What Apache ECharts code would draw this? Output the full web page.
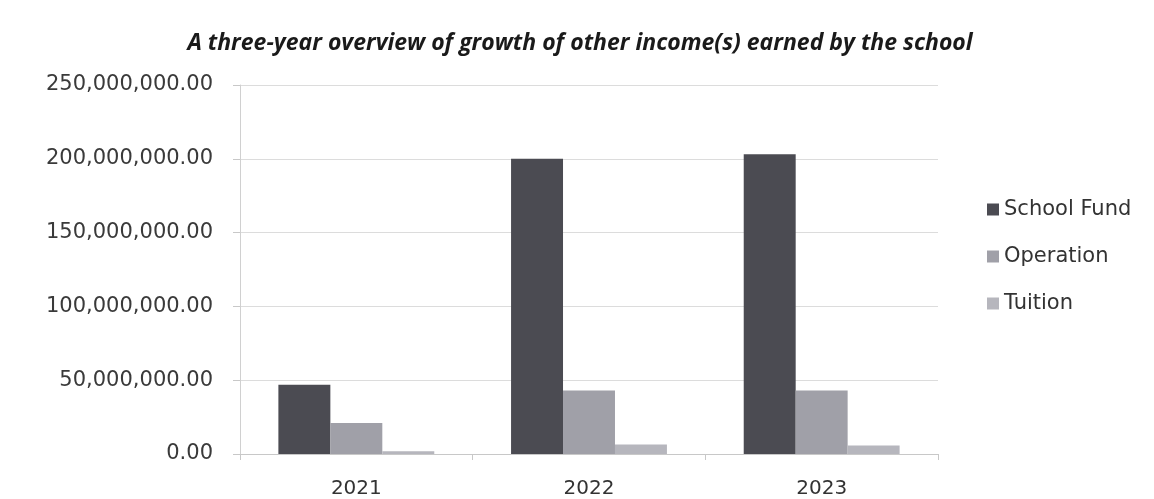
<!DOCTYPE html>
<html>
<head>
<meta charset="utf-8">
<script src="https://cdn.jsdelivr.net/npm/echarts@6/dist/echarts.min.js"></script>
<style>
  html, body { margin: 0; padding: 0; background: #ffffff; }
  #chart { width: 1154px; height: 499px; }
</style>
</head>
<body>
<div id="chart"></div>
<script>
// Years on the category axis
const years = ['2021', '2022', '2023'];

// Other income per year, in currency units
const schoolFund = [47000000, 200000000, 203000000];
const operation = [21000000, 43000000, 43000000];
const tuition = [1800000, 6500000, 5800000];

// Value-axis ticks
const yTicks = [0, 50000000, 100000000, 150000000, 200000000, 250000000];

const fmt = v => v.toLocaleString('en-US', { minimumFractionDigits: 2, maximumFractionDigits: 2 });

const chart = echarts.init(document.getElementById('chart'));
const labelFont = 'DejaVu Sans';

chart.setOption({
  backgroundColor: '#ffffff',
  animation: false,
  title: {
    text: 'A three-year overview of growth of other income(s) earned by the school',
    left: 575,
    textAlign: 'center',
    top: 27,
    textStyle: {
      fontFamily: 'Open Sans',
      fontStyle: 'italic',
      fontWeight: 'bold',
      fontSize: 23,
      color: '#1a1a1a'
    }
  },
  legend: {
    orient: 'vertical',
    left: 982,
    top: 194,
    itemWidth: 12,
    itemHeight: 12,
    itemGap: 26,
    icon: 'rect',
    textStyle: { fontFamily: labelFont, fontSize: 21, color: '#333333' },
    data: ['School Fund', 'Operation', 'Tuition']
  },
  grid: { left: 240, right: 216, top: 85, bottom: 44 },
  xAxis: {
    type: 'category',
    data: years,
    axisLine: { show: true, lineStyle: { color: '#c8c8c8' } },
    axisTick: { show: true, length: 6, lineStyle: { color: '#c8c8c8' } },
    axisLabel: { fontFamily: labelFont, fontSize: 20, color: '#333333', margin: 25 }
  },
  yAxis: {
    type: 'value',
    min: yTicks[0],
    max: yTicks[yTicks.length - 1],
    interval: yTicks[1] - yTicks[0],
    axisLine: { show: true, lineStyle: { color: '#d0d0d0' } },
    axisTick: { show: true, length: 7, lineStyle: { color: '#c8c8c8' } },
    splitLine: { lineStyle: { color: '#dcdcdc' } },
    axisLabel: { fontFamily: labelFont, fontSize: 21, color: '#3a3a3a', margin: 27, formatter: fmt }
  },
  series: [
    { name: 'School Fund', type: 'bar', data: schoolFund, barGap: '0%', barCategoryGap: '33%', itemStyle: { color: '#4b4b52' } },
    { name: 'Operation', type: 'bar', data: operation, itemStyle: { color: '#a0a0a8' } },
    { name: 'Tuition', type: 'bar', data: tuition, itemStyle: { color: '#b6b6bd' } }
  ]
});
</script>
</body>
</html>
